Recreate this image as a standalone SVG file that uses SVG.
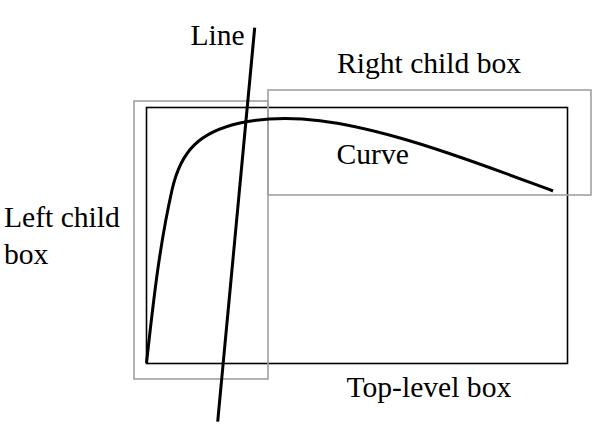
<svg xmlns="http://www.w3.org/2000/svg" width="600" height="426" viewBox="0 0 600 426">
<style>
  .lbl { font-family: "Liberation Serif", "Times New Roman", serif; font-size: 29.6px; fill: #000; }
  .top { fill: none; stroke: #000; stroke-width: 1.6; }
  .child { fill: none; stroke: #a0a0a0; stroke-width: 1.6; }
  .thick { fill: none; stroke: #000; stroke-width: 3; }
</style>
<rect width="600" height="426" fill="#fff"/>
<g id="top-level-box">
  <rect class="top" x="146.5" y="107.5" width="421" height="256"/>
  <text class="lbl" x="346.5" y="396.5">Top-level box</text>
</g>
<g id="left-child-box">
  <rect class="child" x="134" y="101" width="134" height="278"/>
  <text class="lbl" x="4" y="227.3">Left child</text>
  <text class="lbl" x="4" y="264">box</text>
</g>
<g id="right-child-box">
  <rect class="child" x="268" y="90" width="323" height="105"/>
  <text class="lbl" x="337" y="73.3">Right child box</text>
</g>
<g id="curve">
  <path class="thick" d="M146.5,363 C153,305 159,248 172,190 C181,150 200,132 240,123 C293,112 347,123.2 400,138 C451,152.3 502,172 553,191"/>
  <text class="lbl" x="336.5" y="164">Curve</text>
</g>
<g id="line">
  <line class="thick" x1="254.7" y1="27.7" x2="217.7" y2="421.7"/>
  <text class="lbl" x="190.5" y="45">Line</text>
</g>
</svg>
